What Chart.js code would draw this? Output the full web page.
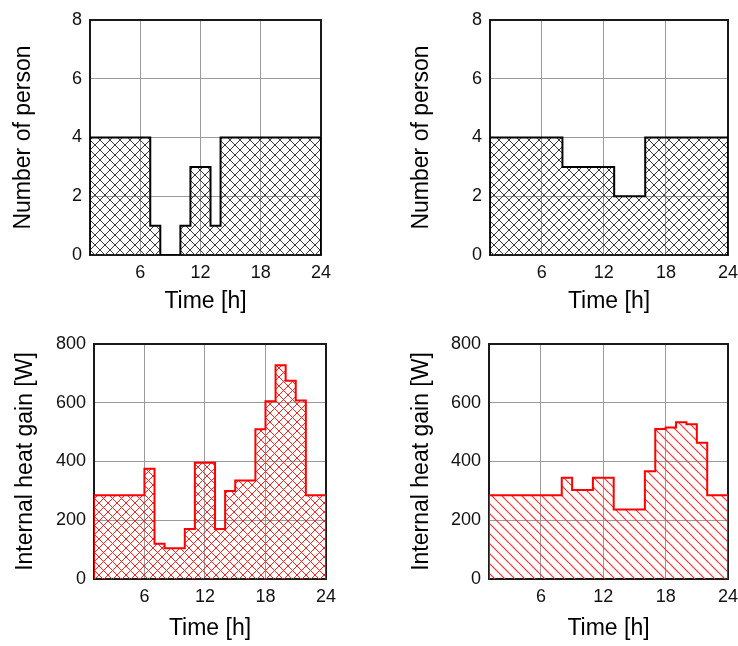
<!DOCTYPE html>
<html>
<head>
<meta charset="utf-8">
<script src="https://cdn.jsdelivr.net/npm/chart.js@4/dist/chart.umd.min.js"></script>
<style>
  html, body { margin: 0; padding: 0; background: #fff; }
  #wrap { position: relative; width: 738px; height: 646px; }
  .cell { position: absolute; width: 369px; height: 323px; }
  canvas { display: block; }
</style>
</head>
<body>
<div id="wrap">
  <div class="cell" style="left:0;top:0"><canvas id="occA" width="369" height="323"></canvas></div>
  <div class="cell" style="left:369px;top:0"><canvas id="occB" width="369" height="323"></canvas></div>
  <div class="cell" style="left:0;top:323px"><canvas id="gainA" width="369" height="323"></canvas></div>
  <div class="cell" style="left:369px;top:323px"><canvas id="gainB" width="369" height="323"></canvas></div>
</div>
<script>
// Hour of day at the start of each one-hour step (the last entry closes the day)
const hours = [1, 2, 3, 4, 5, 6, 7, 8, 9, 10, 11, 12, 13, 14, 15, 16, 17, 18, 19, 20, 21, 22, 23, 24];

// Occupants present during each hour
const occupantsA = [4, 4, 4, 4, 4, 4, 1, 0, 0, 1, 3, 3, 1, 4, 4, 4, 4, 4, 4, 4, 4, 4, 4, 4];
const occupantsB = [4, 4, 4, 4, 4, 4, 4, 3, 3, 3, 3, 3, 2, 2, 2, 4, 4, 4, 4, 4, 4, 4, 4, 4];

// Internal heat gain during each hour [W]
const heatGainA = [285, 285, 285, 285, 285, 375, 120, 105, 105, 170, 396, 396, 170, 300, 335, 335, 510, 605, 728, 675, 608, 285, 285, 285];
const heatGainB = [285, 285, 285, 285, 285, 285, 285, 345, 303, 303, 345, 345, 237, 237, 237, 367, 511, 516, 534, 527, 464, 285, 285, 285];

// Labelled hours on the time axis
const timeTicks = [6, 12, 18, 24];

const FONT = "'Liberation Sans', Arial, sans-serif";
const TICK_FONT = { family: FONT, size: 18 };
const TITLE_FONT = { family: FONT, size: 23 };
const HALF_TITLE = TITLE_FONT.size * 1.2 / 2;

// Hatch fills
function hatch(color, size, width, dirs) {
  const c = document.createElement('canvas');
  c.width = size; c.height = size;
  const g = c.getContext('2d');
  g.strokeStyle = color;
  g.lineWidth = width;
  for (const d of dirs) {
    for (let k = -1; k <= 1; k++) {
      g.beginPath();
      if (d === 'down') { g.moveTo(k * size, 0); g.lineTo(k * size + size, size); }
      else { g.moveTo(k * size + size, 0); g.lineTo(k * size, size); }
      g.stroke();
    }
  }
  return g.createPattern(c, 'repeat');
}

// Step outline closed down to zero at both ends of the day
function stepPoints(values) {
  const pts = [{ x: hours[0], y: 0 }];
  hours.forEach((h, i) => pts.push({ x: h, y: values[i] }));
  pts.push({ x: hours[hours.length - 1], y: 0 });
  return pts;
}

// Box around the plot area
const framePlugin = {
  id: 'frame',
  beforeDatasetsDraw(chart) {
    const { ctx, chartArea: a } = chart;
    ctx.save();
    ctx.strokeStyle = '#1a1a1a';
    ctx.lineWidth = 2;
    ctx.strokeRect(a.left, a.top, a.right - a.left, a.bottom - a.top);
    ctx.restore();
  }
};

function panel(id, values, o) {
  const canvas = document.getElementById(id);
  const W = canvas.width, H = canvas.height;
  const padLeft = o.yTitleX - HALF_TITLE;
  const yWidth = o.left - padLeft;
  const xBottom = o.xTitleY + HALF_TITLE;
  const xHeight = xBottom - o.bottom;
  new Chart(canvas, {
    type: 'line',
    data: {
      datasets: [{
        data: stepPoints(values),
        stepped: true,
        borderColor: o.line,
        borderWidth: 2,
        backgroundColor: o.fillStyle,
        fill: 'origin',
        pointRadius: 0
      }]
    },
    options: {
      responsive: false,
      animation: false,
      events: [],
      layout: { padding: { left: padLeft, right: W - o.right, top: o.top, bottom: H - xBottom } },
      plugins: { legend: { display: false }, tooltip: { enabled: false } },
      scales: {
        x: {
          type: 'linear',
          min: hours[0],
          max: hours[hours.length - 1],
          afterBuildTicks: s => { s.ticks = timeTicks.map(v => ({ value: v })); },
          afterFit: s => { s.height = xHeight; s.paddingLeft = 0; s.paddingRight = 0; },
          grid: { color: '#9a9a9a', lineWidth: 1, drawTicks: false },
          border: { display: false },
          ticks: { font: TICK_FONT, color: '#111', padding: 7, maxRotation: 0, autoSkip: false },
          title: { display: true, text: 'Time [h]', font: TITLE_FONT, color: '#000', padding: 0 }
        },
        y: {
          min: 0,
          max: o.yMax,
          afterFit: s => { s.width = yWidth; s.paddingTop = 0; s.paddingBottom = 0; },
          grid: { color: '#9a9a9a', lineWidth: 1, drawTicks: false },
          border: { display: false },
          ticks: { stepSize: o.yStep, font: TICK_FONT, color: '#111', padding: 8 },
          title: { display: true, text: o.yTitle, font: TITLE_FONT, color: '#000', padding: 0 }
        }
      }
    },
    plugins: [framePlugin]
  });
}

const blackCross = hatch('#3a3a3a', 10, 1, ['down', 'up']);
const redCross = hatch('#ff2020', 9, 1, ['down', 'up']);
const redDiag = hatch('#ff3030', 10, 1.2, ['down']);

panel('occA', occupantsA, { left: 90, right: 321, top: 20, bottom: 255, yTitleX: 24, xTitleY: 302,
  yMax: 8, yStep: 2, yTitle: 'Number of person', line: '#000', fillStyle: blackCross });
panel('occB', occupantsB, { left: 121, right: 359, top: 20, bottom: 255, yTitleX: 53, xTitleY: 302,
  yMax: 8, yStep: 2, yTitle: 'Number of person', line: '#000', fillStyle: blackCross });
panel('gainA', heatGainA, { left: 94, right: 326, top: 21, bottom: 256, yTitleX: 26, xTitleY: 306,
  yMax: 800, yStep: 200, yTitle: 'Internal heat gain [W]', line: '#ff0000', fillStyle: redCross });
panel('gainB', heatGainB, { left: 120, right: 359, top: 21, bottom: 256, yTitleX: 53, xTitleY: 306,
  yMax: 800, yStep: 200, yTitle: 'Internal heat gain [W]', line: '#ff0000', fillStyle: redDiag });
</script>
</body>
</html>
